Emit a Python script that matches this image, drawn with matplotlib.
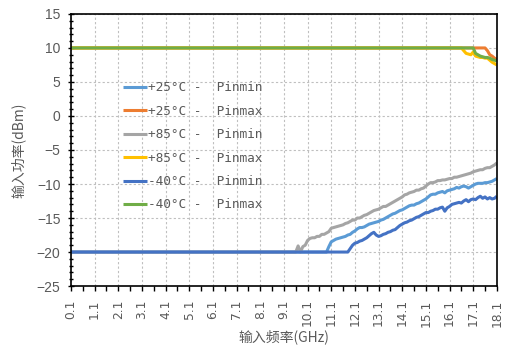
import numpy as np
import matplotlib
matplotlib.use("Agg")
import matplotlib.pyplot as plt
from matplotlib.ticker import MultipleLocator, FixedLocator

# Frequency sweep, 0.1 GHz to 18.1 GHz in 0.1 GHz steps
freq_ghz = np.round(np.arange(1, 182) * 0.1, 1)
tick_labels = [f"{v:.1f}" for v in np.arange(0.1, 18.2, 1.0)]

# +85°C Pinmin: floor at -20 dBm up to 9.6 GHz
pinmin_85_rise = [
    -19.1, -20.0, -19.2, -19.0, -18.3, -18.0, -17.9, -17.9, -17.7, -17.7,
    -17.4, -17.4, -17.2, -17.0, -16.5, -16.4, -16.3, -16.2, -16.1, -16.0,
    -15.8, -15.7, -15.5, -15.3, -15.3, -15.0, -15.0, -14.8, -14.6, -14.5,
    -14.3, -14.1, -13.9, -13.8, -13.7, -13.5, -13.3, -13.3, -13.1, -12.9,
    -12.7, -12.5, -12.3, -12.1, -11.9, -11.6, -11.5, -11.3, -11.2, -11.1,
    -10.9, -10.9, -10.7, -10.6, -10.3, -10.0, -9.8, -9.8, -9.7, -9.5,
    -9.5, -9.4, -9.4, -9.3, -9.2, -9.2, -9.0, -9.0, -8.9, -8.8,
    -8.7, -8.6, -8.5, -8.4, -8.2, -8.1, -8.0, -7.9, -7.9, -7.7,
    -7.6, -7.6, -7.4, -7.2, -6.9,
]
pinmin_85 = [-20.0] * 96 + pinmin_85_rise

# +25°C Pinmin: floor at -20 dBm up to 10.9 GHz
pinmin_25_rise = [
    -19.2, -18.5, -18.3, -18.1, -18.0, -17.9, -17.8, -17.7, -17.5, -17.4,
    -17.1, -16.9, -16.6, -16.4, -16.4, -16.3, -16.1, -15.9, -15.8, -15.7,
    -15.6, -15.5, -15.3, -15.2, -15.0, -14.8, -14.6, -14.4, -14.3, -14.1,
    -13.9, -13.8, -13.6, -13.4, -13.2, -13.1, -13.1, -12.9, -12.8, -12.6,
    -12.4, -12.2, -11.9, -11.6, -11.5, -11.5, -11.3, -11.2, -11.1, -11.3,
    -11.0, -10.9, -10.8, -10.7, -10.5, -10.6, -10.4, -10.3, -10.4, -10.6,
    -10.4, -10.2, -10.0, -9.9, -9.9, -9.9, -9.8, -9.8, -9.7, -9.6,
    -9.4, -9.2,
]
pinmin_25 = [-20.0] * 109 + pinmin_25_rise

# -40°C Pinmin: floor at -20 dBm up to 11.8 GHz
pinmin_m40_rise = [
    -19.5,
    -19.0, -18.7, -18.6, -18.4, -18.3, -18.1, -17.9, -17.6, -17.3, -17.1,
    -17.5, -17.7, -17.6, -17.4, -17.3, -17.1, -17.0, -16.8, -16.7, -16.4,
    -16.1, -15.9, -15.7, -15.6, -15.4, -15.3, -15.1, -14.9, -14.8, -14.6,
    -14.4, -14.2, -14.2, -14.0, -13.9, -13.7, -13.7, -13.5, -13.4, -14.0,
    -13.5, -13.3, -13.0, -12.9, -12.8, -12.7, -12.8, -12.5, -12.3, -12.6,
    -12.3, -12.2, -12.3, -12.0, -11.8, -12.1, -11.9, -12.2, -12.0, -12.2,
    -12.1, -11.8,
]
pinmin_m40 = [-20.0] * 118 + pinmin_m40_rise

# Pinmax: ceiling at 10 dBm, rolling off at the top of the band
pinmax_25 = [10.0] * 176 + [9.6, 9.0, 8.8, 8.5, 8.3]
pinmax_85 = [10.0] * 166 + [9.6, 9.2, 9.1, 9.0, 9.4, 8.8, 8.7, 8.6, 8.6,
                            8.5, 8.5, 8.2, 7.9, 7.7, 7.5]
pinmax_m40 = [10.0] * 171 + [9.2, 9.0, 8.8, 8.7, 8.6, 8.6, 8.5, 8.3, 8.2, 8.1]

series = [
    ("+25°C -  Pinmin", pinmin_25, "#5B9BD5"),
    ("+25°C -  Pinmax", pinmax_25, "#ED7D31"),
    ("+85°C -  Pinmin", pinmin_85, "#A5A5A5"),
    ("+85°C -  Pinmax", pinmax_85, "#FFC000"),
    ("-40°C -  Pinmin", pinmin_m40, "#4472C4"),
    ("-40°C -  Pinmax", pinmax_m40, "#70AD47"),
]

text_color = "#595959"
cjk = ["Noto Sans CJK SC", "DejaVu Sans"]

fig = plt.figure(figsize=(5.07, 3.48), dpi=100)
ax = fig.add_axes([0.140, 0.178, 0.840, 0.782])

for label, vals, color in series:
    ax.plot(freq_ghz, vals, color=color, lw=2.2, label=label,
            solid_joinstyle="round", solid_capstyle="butt")

ax.set_xlim(0.1, 18.1)
ax.set_ylim(-25, 15)

major_x = np.arange(0.1, 18.2, 1.0)
ax.xaxis.set_major_locator(FixedLocator(major_x))
ax.xaxis.set_minor_locator(FixedLocator(major_x[:-1] + 0.5))
ax.set_xticklabels(tick_labels, rotation=90, fontsize=8.8,
                   color=text_color, family="DejaVu Sans")
ax.yaxis.set_major_locator(MultipleLocator(5))
ax.yaxis.set_minor_locator(MultipleLocator(1))

ax.tick_params(axis="x", which="both", direction="out", length=3.5,
               width=1.0, color="black", pad=6)
ax.tick_params(axis="y", which="major", direction="inout", length=5,
               width=1.0, color="black", labelsize=10,
               labelcolor=text_color, pad=5)
ax.tick_params(axis="y", which="minor", direction="inout", length=3,
               width=1.0, color="black")
for t in ax.get_yticklabels():
    t.set_fontfamily("Liberation Sans")

ax.grid(True, which="major", color="#BFBFBF", linestyle=(0, (2, 2)), lw=0.8)
ax.set_axisbelow(True)

for side in ["left", "bottom", "top", "right"]:
    ax.spines[side].set_color("black")
    ax.spines[side].set_linewidth(1.2)

ax.set_xlabel("输入频率(GHz)", fontsize=10, color=text_color,
              family=cjk, labelpad=2)
ax.set_ylabel("输入功率(dBm)", fontsize=10, color=text_color,
              family=cjk, labelpad=8)

leg = ax.legend(loc="upper left", bbox_to_anchor=(0.110, 0.772),
                borderaxespad=0, frameon=False, handlelength=1.9,
                handletextpad=0.1, labelspacing=0.82,
                prop={"family": "DejaVu Sans Mono", "size": 9.2})
for t in leg.get_texts():
    t.set_color(text_color)

fig.savefig("out.png", dpi=100)
